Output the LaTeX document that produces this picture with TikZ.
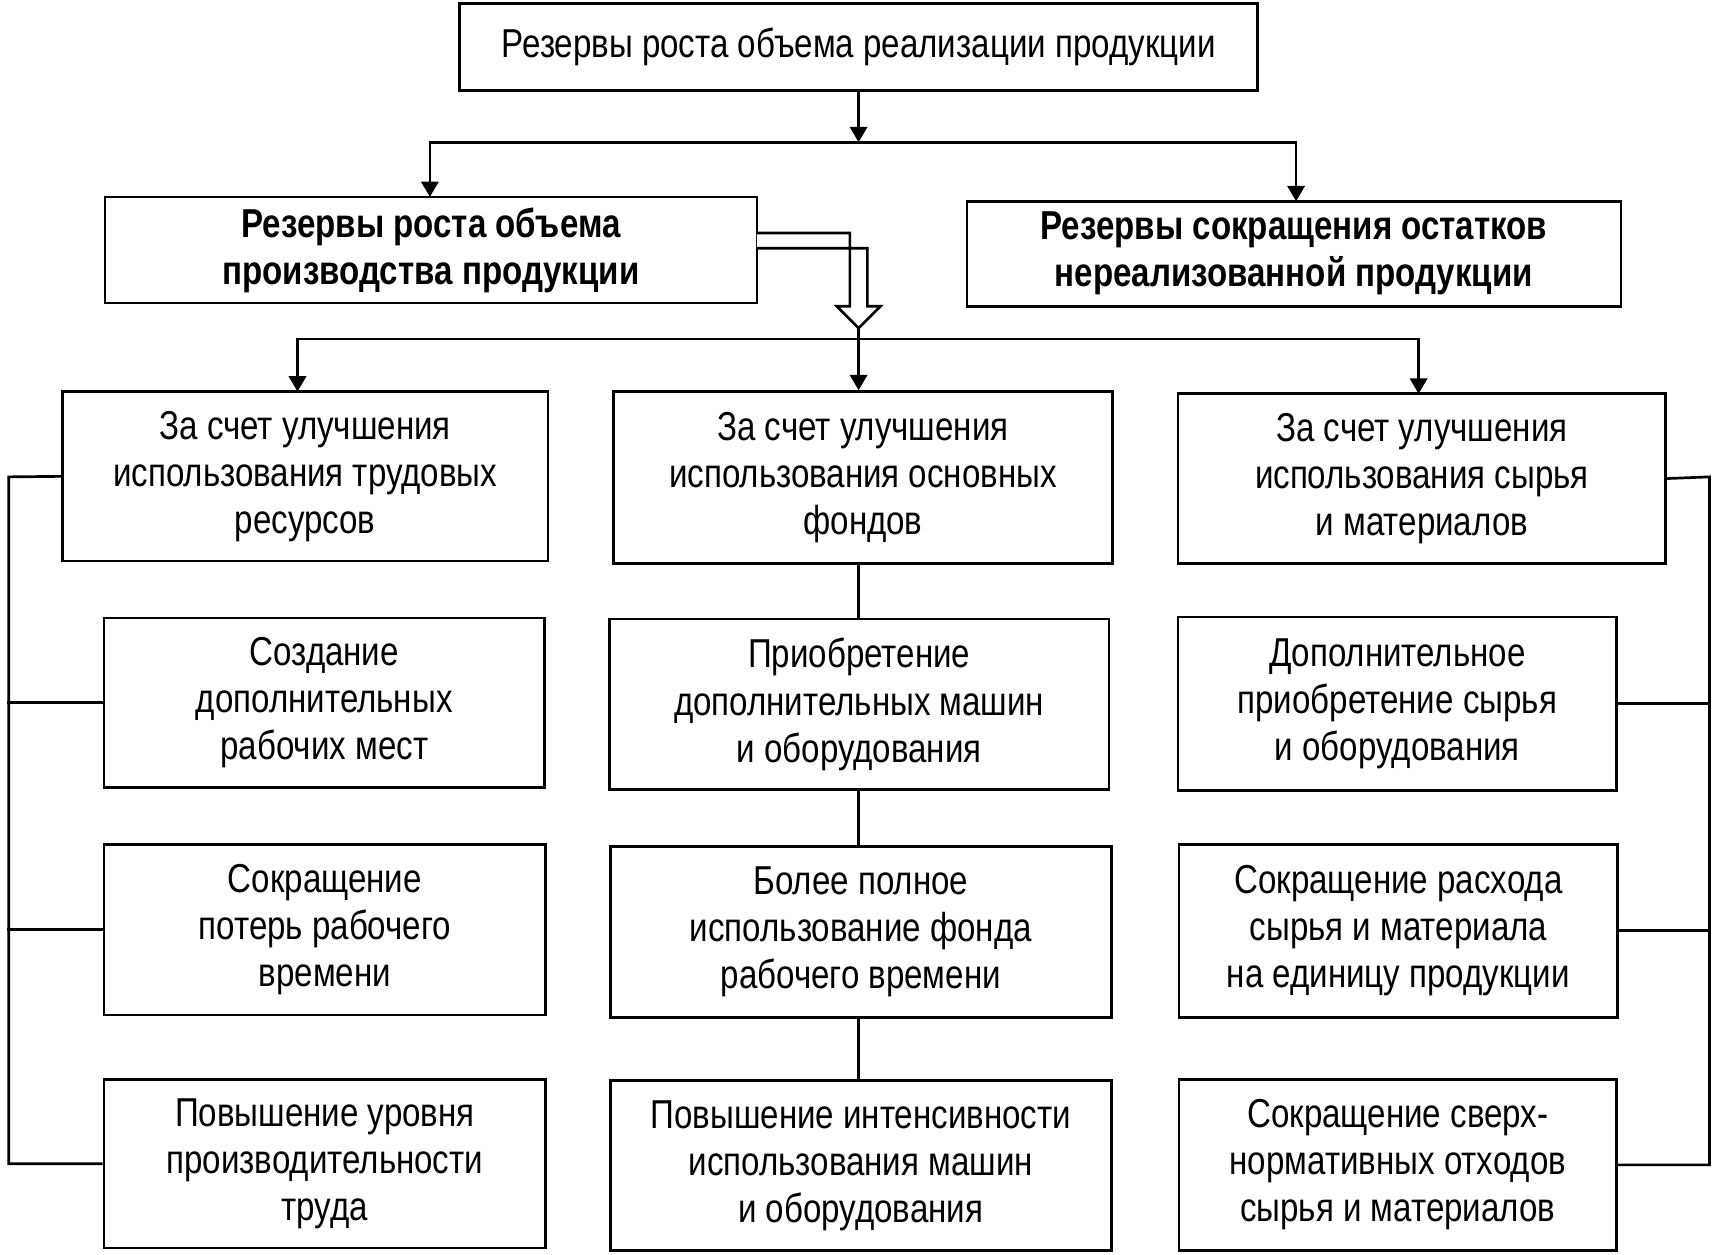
\documentclass[tikz,border=0pt]{standalone}
\usepackage{fontspec}
\setmainfont[FakeStretch=0.82]{Liberation Sans}
\usetikzlibrary{arrows.meta, positioning}
\tikzset{
  box/.style={draw, line width=1.4pt, align=center, inner sep=0pt,
    font=\fontsize{21}{24.5}\selectfont},
  link/.style={line width=1.4pt},
  arr/.style={line width=1.4pt, -{Triangle[length=8pt,width=9pt]}}
}
\newcommand{\bx}[6]{% name, x1, y1, x2, y2, text
  \node[box, minimum width={(#4-#2)*0.02cm}, minimum height={(#5-#3)*0.02cm}]
    (#1) at ({(#2+#4)/2},{(#3+#5)/2}) {#6};}
\begin{document}
\begin{tikzpicture}[x=0.02cm, y=-0.02cm]
  \useasboundingbox (0,0) rectangle (1568,1147);
  % levels
  \bx{top}{420}{3}{1150}{83}{Резервы роста объема реализации продукции}
  \bx{prod}{96}{180}{692}{277}{\bfseries Резервы роста объема\\\bfseries производства продукции}
  \bx{stock}{884}{184}{1482}{280}{\bfseries Резервы сокращения остатков\\\bfseries нереализованной продукции}
  \bx{lab}{57}{358}{501}{513}{За счет улучшения\\использования трудовых\\ресурсов}
  \bx{fix}{561}{358}{1017}{515}{За счет улучшения\\использования основных\\фондов}
  \bx{mat}{1077}{360}{1523}{515}{За счет улучшения\\использования сырья\\и материалов}
  \bx{l1}{95}{565}{498}{720}{Создание\\дополнительных\\рабочих мест}
  \bx{l2}{95}{772}{499}{928}{Сокращение\\потерь рабочего\\времени}
  \bx{l3}{95}{987}{499}{1141}{Повышение уровня\\производительности\\труда}
  \bx{m1}{557}{566}{1014}{722}{Приобретение\\дополнительных машин\\и оборудования}
  \bx{m2}{558}{774}{1016}{930}{Более полное\\использование фонда\\рабочего времени}
  \bx{m3}{558}{988}{1016}{1143}{Повышение интенсивности\\использования машин\\и оборудования}
  \bx{r1}{1077}{564}{1478}{723}{Дополнительное\\приобретение сырья\\и оборудования}
  \bx{r2}{1078}{772}{1479}{930}{Сокращение расхода\\сырья и материала\\на единицу продукции}
  \bx{r3}{1078}{987}{1478}{1143}{Сокращение сверх-\\нормативных отходов\\сырья и материалов}
  % connectors
  \coordinate (j1) at (785,130);
  \draw[arr] (top.south -| j1) -- (j1);
  \draw[arr] (j1) -- (393,130) -- (393,180);
  \draw[arr] (j1) -- (1185,130) -- (1185,184);
  \draw[line width=1.4pt, fill=white] (692,213) -- (777,213) -- (777,280) -- (765,280)
    -- (785,300) -- (805,280) -- (793,280) -- (793,227) -- (692,227);
  \coordinate (j2) at (785,310);
  \draw[link] (785,300) -- (j2);
  \draw[arr] (j2) -- (fix.north -| j2);
  \draw[arr] (j2) -- (272,310) -- (272,358);
  \draw[arr] (j2) -- (1297,310) -- (1297,360);
  \draw[link] (fix.south -| j2) -- (m1.north -| j2);
  \draw[link] (m1.south -| j2) -- (m2.north -| j2);
  \draw[link] (m2.south -| j2) -- (m3.north -| j2);
  \draw[link] (lab.west) -- (8,436) |- (l3.west);
  \draw[link] (l1.west) -- ++(-87,0);
  \draw[link] (l2.west) -- ++(-87,0);
  \draw[link] (mat.east) -- (1563,436) |- (r3.east);
  \draw[link] (r1.east) -- ++(85,0);
  \draw[link] (r2.east) -- ++(84,0);
\end{tikzpicture}
\end{document}
